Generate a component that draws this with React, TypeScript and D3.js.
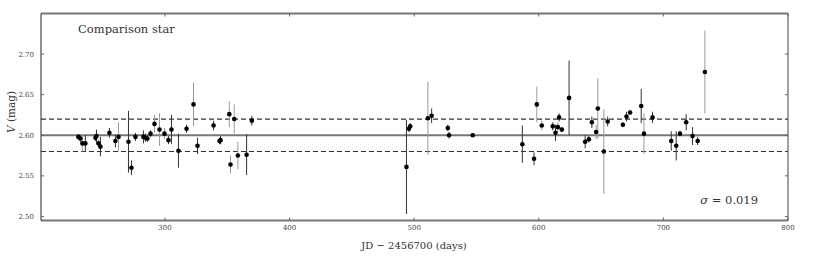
import React from 'react';
import * as d3 from 'd3';

// JD - 2456700, V magnitude, error, and whether the error bar is drawn light grey
const jd = [
  230.5, 232.1, 233.7, 236.1, 244.2, 245.0, 246.6, 248.2, 255.4, 260.2,
  262.7, 270.7, 273.1, 276.3, 282.7, 284.3, 285.9, 288.4, 291.6, 295.6,
  299.6, 302.8, 305.2, 310.8, 317.3, 322.9, 326.1, 339.0, 343.8, 344.6,
  351.6, 352.6, 355.6, 358.5, 365.5, 369.7,
  493.8, 495.8, 496.8, 511.0, 514.0, 527.0, 528.0, 547.0,
  586.8, 596.2, 598.4, 602.4, 611.2, 613.4, 615.3, 616.3, 618.5, 624.3,
  637.2, 640.2, 642.6, 646.0, 647.4, 652.2, 655.3, 667.5, 670.4, 673.3,
  682.2, 684.4, 691.3, 706.3, 710.3, 713.3, 718.3, 723.4, 727.5, 733.3,
];
const mag = [
  2.598, 2.596, 2.590, 2.590, 2.597, 2.599, 2.590, 2.586, 2.603, 2.593,
  2.598, 2.592, 2.560, 2.598, 2.598, 2.597, 2.596, 2.602, 2.614, 2.607,
  2.602, 2.594, 2.607, 2.581, 2.608, 2.638, 2.587, 2.612, 2.593, 2.594,
  2.626, 2.564, 2.620, 2.575, 2.576, 2.618,
  2.561, 2.608, 2.611, 2.621, 2.624, 2.609, 2.600, 2.600,
  2.589, 2.571, 2.638, 2.612, 2.611, 2.603, 2.610, 2.622, 2.607, 2.646,
  2.592, 2.595, 2.616, 2.604, 2.633, 2.580, 2.617, 2.613, 2.623, 2.628,
  2.636, 2.602, 2.622, 2.593, 2.587, 2.602, 2.616, 2.599, 2.593, 2.678,
];
const err = [
  0.003, 0.004, 0.010, 0.010, 0.004, 0.008, 0.005, 0.012, 0.006, 0.008,
  0.018, 0.038, 0.009, 0.005, 0.008, 0.005, 0.004, 0.004, 0.011, 0.020,
  0.007, 0.005, 0.018, 0.021, 0.005, 0.027, 0.010, 0.006, 0.004, 0.005,
  0.016, 0.011, 0.018, 0.017, 0.025, 0.006,
  0.058, 0.004, 0.004, 0.045, 0.009, 0.004, 0.004, 0.002,
  0.023, 0.008, 0.022, 0.006, 0.005, 0.010, 0.006, 0.005, 0.003, 0.046,
  0.008, 0.004, 0.007, 0.009, 0.037, 0.052, 0.006, 0.003, 0.006, 0.003,
  0.021, 0.025, 0.007, 0.012, 0.018, 0.004, 0.010, 0.011, 0.005, 0.051,
];
const greyBar = [
  0, 0, 1, 0, 0, 0, 1, 0, 0, 0,
  1, 0, 0, 0, 0, 0, 0, 0, 1, 1,
  1, 0, 0, 0, 0, 1, 0, 0, 0, 0,
  1, 1, 1, 1, 0, 0,
  0, 0, 0, 1, 0, 0, 0, 0,
  0, 0, 1, 1, 0, 0, 1, 0, 0, 0,
  0, 0, 0, 1, 1, 1, 0, 0, 0, 0,
  0, 1, 0, 0, 0, 1, 0, 0, 0, 1,
];

const xTicks = [300, 400, 500, 600, 700, 800];
const yTicks = [2.5, 2.55, 2.6, 2.65, 2.7];
const meanMag = 2.6;
const bandMag = [2.62, 2.58];
const title = 'Comparison star';
const sigmaText = '0.019';

const W = 830;
const H = 260;
const left = 41, right = 788, top = 13.5, bottom = 220.5;
const SERIF = "'DejaVu Serif', 'Liberation Serif', 'Times New Roman', Times, serif";

export default function App() {
  const x = d3.scaleLinear().domain([200.5, 800]).range([left, right]);
  const y = d3.scaleLinear().domain([2.495, 2.75]).range([bottom, top]);
  const data = jd.map((d, i) => ({ t: d, v: mag[i], e: err[i], g: greyBar[i] === 1 }));
  const fmt = d3.format('.2f');

  return (
    <svg width={W} height={H} fontFamily={SERIF} style={{ position: 'absolute', left: 0, top: 0, background: '#fff' }}>
      {/* reference lines */}
      <line x1={left} x2={right} y1={y(meanMag)} y2={y(meanMag)} stroke="#777" strokeWidth={1.8} />
      {bandMag.map(m => (
        <line key={m} x1={left} x2={right} y1={y(m)} y2={y(m)} stroke="#333" strokeWidth={1.2} strokeDasharray="5,3" />
      ))}

      {/* error bars */}
      {data.map((d, i) => (
        <line key={'e' + i} x1={x(d.t)} x2={x(d.t)} y1={y(d.v + d.e)} y2={y(d.v - d.e)}
          stroke={d.g ? '#9a9a9a' : '#333'} strokeWidth={1} />
      ))}
      {data.map((d, i) => (
        <circle key={'p' + i} cx={x(d.t)} cy={y(d.v)} r={2.3} fill="#000" />
      ))}

      {/* frame */}
      <line x1={left} x2={right} y1={top} y2={top} stroke="#777" strokeWidth={2} />
      <line x1={left} x2={right} y1={bottom} y2={bottom} stroke="#777" strokeWidth={2} />
      <line x1={left} x2={left} y1={top} y2={bottom} stroke="#222" strokeWidth={1} />
      <line x1={right} x2={right} y1={top} y2={bottom} stroke="#444" strokeWidth={1} />

      {/* ticks */}
      {xTicks.map(t => (
        <g key={'x' + t}>
          <line x1={x(t)} x2={x(t)} y1={bottom} y2={bottom - 3} stroke="#666" />
          <line x1={x(t)} x2={x(t)} y1={top} y2={top + 3} stroke="#666" />
          <text x={x(t)} y={229.5} textAnchor="middle" fontSize={7} fill="#444">{t}</text>
        </g>
      ))}
      {yTicks.map(t => (
        <g key={'y' + t}>
          <line x1={left} x2={left + 3} y1={y(t)} y2={y(t)} stroke="#666" />
          <line x1={right} x2={right - 3} y1={y(t)} y2={y(t)} stroke="#666" />
          <text x={34} y={y(t) + 2.5} textAnchor="end" fontSize={7} fill="#444">{fmt(t)}</text>
        </g>
      ))}

      {/* labels */}
      <text x={78} y={32.5} fontSize={11.5} fill="#333">{title}</text>
      <text x={758} y={204} textAnchor="end" fontSize={11.5} fill="#333">
        <tspan fontStyle="italic">σ</tspan> = {sigmaText}
      </text>
      <text x={414} y={249} textAnchor="middle" fontSize={10} fill="#333">
        JD − 2456700 (days)
      </text>
      <text transform="translate(15,112) rotate(-90)" textAnchor="middle" fontSize={10.5} fill="#333">
        <tspan fontStyle="italic">V</tspan> (mag)
      </text>
    </svg>
  );
}
